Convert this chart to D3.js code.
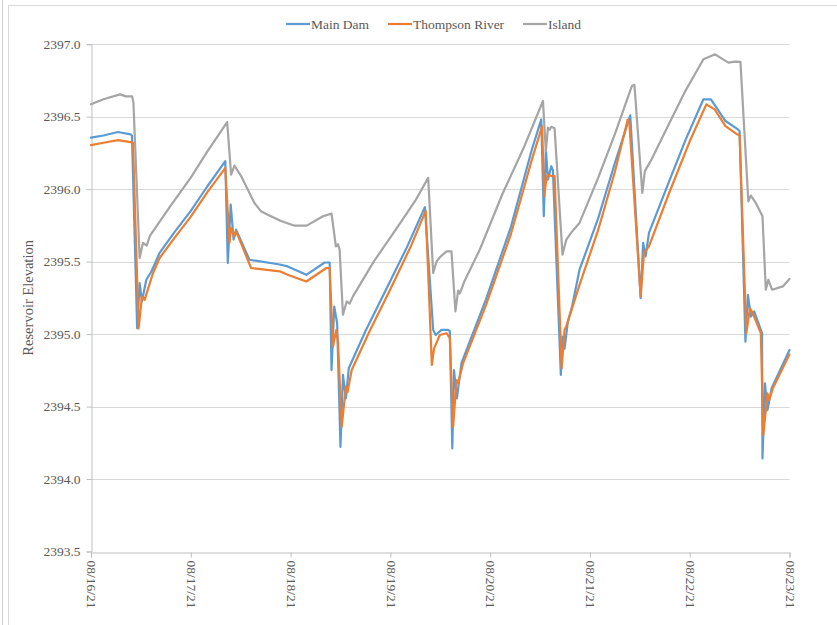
<!DOCTYPE html>
<html>
<head>
<meta charset="utf-8">
<script src="https://cdn.jsdelivr.net/npm/d3@7/dist/d3.min.js"></script>
<style>
  body { margin: 0; background: #fff; }
  svg { display: block; }
</style>
</head>
<body>
<svg id="chart" width="837" height="625"></svg>
<script>
// Reservoir elevation readings, hours since 08/16/21 00:00 -> elevation (ft)
const dayLabels = ["08/16/21", "08/17/21", "08/18/21", "08/19/21", "08/20/21", "08/21/21", "08/22/21", "08/23/21"];
const dayHours = [0, 24, 48, 72, 96, 120, 144, 168];
const elevationTicks = [2393.5, 2394.0, 2394.5, 2395.0, 2395.5, 2396.0, 2396.5, 2397.0];
const seriesNames = ["Main Dam", "Thompson River", "Island"];
const seriesColors = ["#5B9BD5", "#ED7D31", "#A5A5A5"];

const mainDam = [
  [0, 2396.355], [3, 2396.37], [6.5, 2396.394], [9.5, 2396.378], [9.85, 2396.37],
  [11.1, 2395.04], [11.7, 2395.352], [12.25, 2395.225], [13.3, 2395.375], [14.5, 2395.43],
  [16.5, 2395.56], [20, 2395.70], [24, 2395.85], [28, 2396.02], [32.3, 2396.193],
  [32.9, 2395.49], [33.6, 2395.894], [34.3, 2395.652], [34.9, 2395.72], [38.1, 2395.513],
  [45.4, 2395.48], [47.3, 2395.467], [51.8, 2395.409], [56.2, 2395.494], [57.4, 2395.494],
  [57.85, 2394.752], [58.5, 2395.19], [59.2, 2395.075], [60.0, 2394.222], [60.6, 2394.718],
  [61.3, 2394.557], [62.0, 2394.764], [66, 2395.02], [71, 2395.31], [76, 2395.60], [80.3, 2395.875],
  [82.3, 2395.029], [82.9, 2394.994], [84.3, 2395.029], [85.9, 2395.029], [86.3, 2395.02],
  [86.9, 2394.211], [87.3, 2394.752], [88.0, 2394.557], [89.1, 2394.80], [95, 2395.24],
  [101, 2395.74], [106, 2396.27], [108.3, 2396.481],
  [108.9, 2395.813], [109.4, 2396.274], [109.9, 2396.066], [110.7, 2396.158], [111.1, 2396.13],
  [113.0, 2394.718], [113.4, 2394.983], [113.9, 2394.90], [114.7, 2395.087], [115.7, 2395.19],
  [117.5, 2395.444], [122, 2395.80], [126, 2396.18], [129.7, 2396.509],
  [132.2, 2395.248], [132.8, 2395.629], [133.4, 2395.536], [134.2, 2395.698], [139, 2396.05],
  [143, 2396.34], [147.3, 2396.62], [149.1, 2396.62], [152.6, 2396.47], [155.6, 2396.412],
  [156.0, 2396.40], [157.4, 2394.948], [158.0, 2395.271], [158.7, 2395.121], [159.5, 2395.156],
  [161.4, 2395.006], [161.5, 2394.142], [162.1, 2394.66], [162.7, 2394.476], [163.7, 2394.626],
  [168, 2394.89]
];

const thompsonRiver = [
  [0, 2396.304], [3, 2396.32], [6.5, 2396.338], [9.5, 2396.324], [10.1, 2396.32],
  [11.45, 2395.04], [12.25, 2395.26], [12.9, 2395.236], [14.9, 2395.42], [16.5, 2395.525],
  [20, 2395.66], [24, 2395.81], [28, 2395.98], [32.3, 2396.147],
  [33.3, 2395.629], [33.7, 2395.732], [34.5, 2395.675], [34.9, 2395.71], [38.5, 2395.456],
  [45.4, 2395.433], [47.3, 2395.41], [51.8, 2395.363], [56.6, 2395.456], [57.4, 2395.456],
  [58.2, 2394.914], [59.0, 2395.029], [59.4, 2394.948], [60.3, 2394.36], [61.3, 2394.637],
  [61.7, 2394.60], [62.7, 2394.752], [67, 2395.02], [72, 2395.31], [77, 2395.61], [80.5, 2395.85],
  [81.98, 2394.787], [82.5, 2394.90], [83.9, 2394.994], [85.5, 2395.006], [86.3, 2394.972],
  [87.1, 2394.36], [87.9, 2394.683], [88.3, 2394.66], [89.5, 2394.80], [95, 2395.20],
  [101, 2395.69], [106, 2396.20], [108.5, 2396.435],
  [109.0, 2395.951], [109.5, 2396.066], [109.9, 2396.10], [110.7, 2396.09], [111.5, 2396.09],
  [113.2, 2394.764], [113.9, 2395.029], [114.3, 2395.052], [117.5, 2395.34], [122, 2395.72],
  [126, 2396.12], [129.1, 2396.48], [129.5, 2396.45],
  [132.2, 2395.26], [133.0, 2395.56], [134.2, 2395.605], [139, 2395.97], [144, 2396.33],
  [148.0, 2396.585], [150, 2396.55], [152.6, 2396.435], [155.4, 2396.378], [156.0, 2396.37],
  [157.6, 2395.006], [158.5, 2395.18], [159.5, 2395.121], [161.1, 2395.006], [161.7, 2394.303],
  [162.7, 2394.591], [163.1, 2394.545], [164.0, 2394.626], [168, 2394.86]
];

const island = [
  [0, 2396.585], [3, 2396.62], [7.0, 2396.654], [8.4, 2396.64], [9.9, 2396.64], [10.2, 2396.6],
  [11.7, 2395.525], [12.5, 2395.63], [13.4, 2395.61], [14.2, 2395.68], [19, 2395.88],
  [24, 2396.08], [28, 2396.26], [32.75, 2396.463],
  [33.7, 2396.10], [34.5, 2396.163], [36.1, 2396.09], [37.7, 2395.997], [39.3, 2395.905],
  [40.9, 2395.847], [42.5, 2395.824],
  [45.7, 2395.78], [49.0, 2395.748], [51.9, 2395.748], [55.8, 2395.813], [57.85, 2395.831],
  [58.9, 2395.605], [59.4, 2395.62], [59.8, 2395.582], [60.6, 2395.133], [61.5, 2395.225],
  [62.2, 2395.21], [63.0, 2395.26], [68, 2395.50], [74, 2395.75], [78, 2395.92], [81.1, 2396.078],
  [82.3, 2395.421], [83.1, 2395.50], [83.9, 2395.53], [85.5, 2395.571], [86.7, 2395.571],
  [87.65, 2395.156], [88.3, 2395.30], [88.7, 2395.28], [89.9, 2395.37], [93.5, 2395.582],
  [99, 2395.97], [104, 2396.28], [108.7, 2396.608],
  [109.4, 2396.262], [109.9, 2396.424], [110.3, 2396.41], [110.7, 2396.43], [111.5, 2396.42],
  [113.4, 2395.548], [114.3, 2395.65], [115.5, 2395.70], [116.7, 2395.74], [117.5, 2395.767],
  [122, 2396.08], [126, 2396.38], [130.1, 2396.712], [130.7, 2396.72],
  [132.6, 2395.974], [133.2, 2396.124], [134.6, 2396.193], [139, 2396.45], [143, 2396.68],
  [147.3, 2396.896], [150.1, 2396.93], [153.3, 2396.873], [154.8, 2396.88], [156.2, 2396.878],
  [158.1, 2395.916], [158.7, 2395.956], [159.9, 2395.905], [161.5, 2395.813], [162.3, 2395.306],
  [162.9, 2395.375], [163.8, 2395.306], [166.4, 2395.329], [168, 2395.38]
];

const seriesData = [mainDam, thompsonRiver, island];

const serif = "'Liberation Serif', 'Times New Roman', 'DejaVu Serif', serif";
const textColor = "#595959";

const svg = d3.select("#chart")
  .style("font-family", serif);

// chart frame
svg.append("line").attr("x1", 2.5).attr("x2", 2.5).attr("y1", 0).attr("y2", 625)
  .attr("stroke", "#CFCFCF").attr("stroke-width", 1);
svg.append("rect").attr("x", 8.5).attr("y", 5.5).attr("width", 840).attr("height", 640)
  .attr("fill", "none").attr("stroke", "#D9D9D9").attr("stroke-width", 1);

const x = d3.scaleLinear().domain([0, 168]).range([91, 789.5]);
const y = d3.scaleLinear().domain([2393.5, 2397.0]).range([551.5, 44.2]);

// horizontal gridlines
svg.append("g").selectAll("line")
  .data(elevationTicks.slice(1))
  .join("line")
  .attr("x1", x(0)).attr("x2", x(168))
  .attr("y1", d => Math.round(y(d)) + 0.5).attr("y2", d => Math.round(y(d)) + 0.5)
  .attr("stroke", "#D9D9D9").attr("stroke-width", 1);

// y axis
const yAxis = svg.append("g")
  .attr("transform", `translate(${Math.round(x(0)) + 0.5},0)`)
  .call(d3.axisLeft(y).tickValues(elevationTicks).tickFormat(d3.format(".1f")).tickSize(5).tickPadding(6));
yAxis.attr("font-family", null).attr("font-size", null);
yAxis.select(".domain").attr("stroke", "#BFBFBF");
yAxis.selectAll(".tick line").attr("stroke", "#BFBFBF");
yAxis.selectAll(".tick text")
  .attr("fill", textColor)
  .style("font-family", serif).style("font-size", "13.5px");

// x axis
const xAxis = svg.append("g")
  .attr("transform", `translate(0,${Math.round(y(2393.5)) + 0.5})`)
  .call(d3.axisBottom(x).tickValues(dayHours).tickFormat((d, i) => dayLabels[i]).tickSize(5));
xAxis.attr("font-family", null).attr("font-size", null);
xAxis.select(".domain").attr("stroke", "#BFBFBF");
xAxis.selectAll(".tick line").attr("stroke", "#BFBFBF");
xAxis.selectAll(".tick text")
  .attr("fill", textColor)
  .style("font-family", serif).style("font-size", "13.5px")
  .attr("text-anchor", "start")
  .attr("transform", "translate(0,8) rotate(90)")
  .attr("x", 0).attr("y", 0).attr("dy", "0.32em");

// y axis title
svg.append("text")
  .attr("transform", `translate(33,${(y(2393.5) + y(2397.0)) / 2}) rotate(-90)`)
  .attr("text-anchor", "middle")
  .attr("fill", textColor)
  .style("font-family", serif).style("font-size", "14.5px")
  .text("Reservoir Elevation");

// series lines
const line = d3.line().x(d => x(d[0])).y(d => y(d[1]));
svg.append("g").selectAll("path")
  .data(seriesData)
  .join("path")
  .attr("d", line)
  .attr("fill", "none")
  .attr("stroke", (d, i) => seriesColors[i])
  .attr("stroke-width", 2.2)
  .attr("stroke-linejoin", "round")
  .attr("stroke-linecap", "round");

// legend
const legendX = [286, 388, 523];
const legend = svg.append("g").selectAll("g")
  .data(seriesNames)
  .join("g")
  .attr("transform", (d, i) => `translate(${legendX[i]},24)`);
legend.append("line").attr("x1", 0).attr("x2", 24).attr("y1", 0).attr("y2", 0)
  .attr("stroke", (d, i) => seriesColors[i]).attr("stroke-width", 2.2);
legend.append("text").attr("x", 25).attr("y", 4.5)
  .attr("fill", textColor)
  .style("font-family", serif).style("font-size", "13.5px")
  .text(d => d);
</script>
</body>
</html>
